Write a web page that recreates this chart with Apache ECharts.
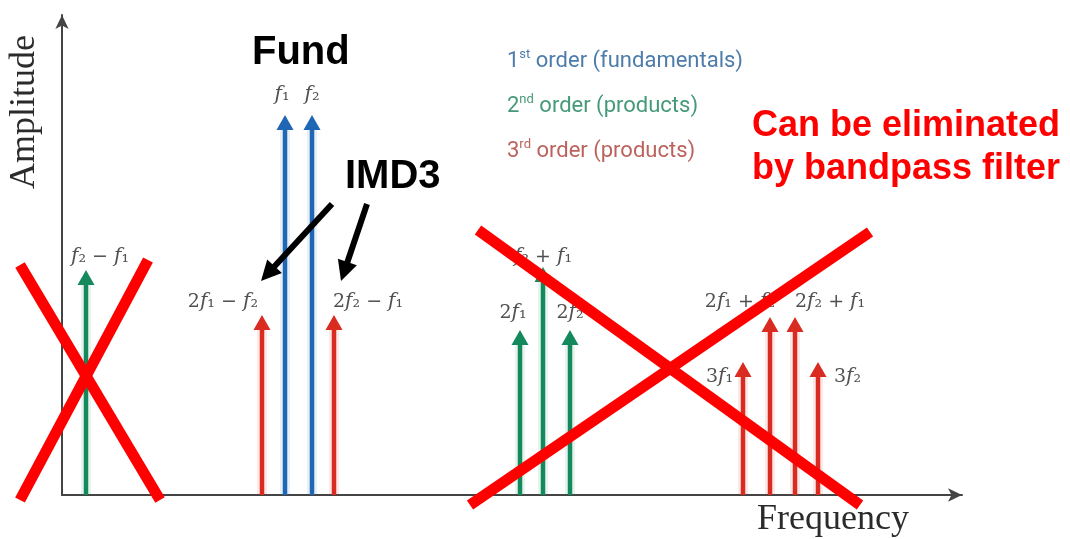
<!DOCTYPE html>
<html>
<head>
<meta charset="utf-8">
<script src="https://cdn.jsdelivr.net/npm/echarts@6/dist/echarts.min.js"></script>
<style>
html, body { margin: 0; padding: 0; background: #fff; }
#chart { width: 1070px; height: 539px; }
</style>
</head>
<body>
<div id="chart"></div>
<script>
// spectral lines: name, frequency position, amplitude, order
const tones = ['f2-f1', '2f1-f2', 'f1', 'f2', '2f2-f1', '2f1', 'f2+f1', '2f2', '3f1', '2f1+f2', '2f2+f1', '3f2'];
const freqs = [24, 200, 223, 250, 272, 458, 481, 508, 681, 708, 733, 756];
const amps = [225, 180, 380, 380, 180, 165, 228, 165, 133, 178, 178, 133];
const orders = [2, 3, 1, 1, 3, 2, 2, 2, 3, 3, 3, 3];
const orderNames = ['1st order (fundamentals)', '2nd order (products)', '3rd order (products)'];

const toneText = {
	'f2-f1': '{i|f}₂ − {i|f}₁',
	'2f1-f2': '2{i|f}₁ − {i|f}₂',
	'f1': '{i|f}₁',
	'f2': '{i|f}₂',
	'2f2-f1': '2{i|f}₂ − {i|f}₁',
	'2f1': '2{i|f}₁',
	'f2+f1': '{i|f}₂ + {i|f}₁',
	'2f2': '2{i|f}₂',
	'3f1': '3{i|f}₁',
	'2f1+f2': '2{i|f}₁ + {i|f}₂',
	'2f2+f1': '2{i|f}₂ + {i|f}₁',
	'3f2': '3{i|f}₂'
};
// label offset from arrow tip [dx, dy, align]
const labelPlace = {
	'f2-f1': [14, -13, 'center'],
	'2f1-f2': [-4, -13, 'right'],
	'f1': [-3, -20, 'center'],
	'f2': [0, -20, 'center'],
	'2f2-f1': [-1, -13, 'left'],
	'2f1': [-7, -17, 'center'],
	'f2+f1': [0, -10, 'center'],
	'2f2': [0, -17, 'center'],
	'3f1': [-10, 15, 'right'],
	'2f1+f2': [5, -15, 'right'],
	'2f2+f1': [0, -15, 'left'],
	'3f2': [16, 15, 'left']
};
const colors = ['#1f66b5', '#14895b', '#da2b20'];
const legendColors = ['#4d7cab', '#449a78', '#bb625c'];
const serif = '"Liberation Serif", "DejaVu Serif", serif';
const mathFont = '"DejaVu Serif", serif';

function renderArrow( params, api ) {
	const color = api.visual( 'color' );
	const base = api.coord( [ api.value( 0 ), 0 ] );
	const tip = api.coord( [ api.value( 0 ), api.value( 1 ) ] );
	const key = tones[ api.value( 2 ) ];
	const place = labelPlace[ key ];
	const head = 15, hw = 8.5;
	const x = tip[ 0 ], y = tip[ 1 ];
	return {
		type: 'group',
		children: [
			{
				type: 'line',
				shape: { x1: x, y1: base[ 1 ], x2: x, y2: y + head },
				style: { stroke: color, lineWidth: 10, opacity: 0.1 }
			},
			{
				type: 'line',
				shape: { x1: x, y1: base[ 1 ], x2: x, y2: y + head - 1 },
				style: { stroke: color, lineWidth: 4.5 }
			},
			{
				type: 'polygon',
				shape: { points: [ [ x - hw, y + head ], [ x, y ], [ x + hw, y + head ] ] },
				style: { fill: color }
			},
			{
				type: 'text',
				x: x + place[ 0 ],
				y: y + place[ 1 ],
				style: {
					text: toneText[ key ],
					fill: '#505050',
					fontSize: 19,
					fontFamily: mathFont,
					align: place[ 2 ],
					verticalAlign: 'middle',
					rich: {
						i: { fontSize: 20, fontFamily: mathFont, fontStyle: 'italic', fill: '#505050' }
					}
				}
			}
		]
	};
}

function arrowLine( x1, y1, x2, y2 ) {
	const dx = x2 - x1, dy = y2 - y1, len = Math.hypot( dx, dy );
	const ux = dx / len, uy = dy / len;
	const hl = 20, hw = 10;
	const bx = x2 - ux * hl, by = y2 - uy * hl;
	return [
		{ type: 'line', z: 50, shape: { x1, y1, x2: bx + ux * 2, y2: by + uy * 2 }, style: { stroke: '#000', lineWidth: 6 } },
		{ type: 'polygon', z: 50, shape: { points: [ [ x2, y2 ], [ bx - uy * hw, by + ux * hw ], [ bx + uy * hw, by - ux * hw ] ] }, style: { fill: '#000' } }
	];
}

function cross( x1, y1, x2, y2 ) {
	return { type: 'line', z: 60, shape: { x1, y1, x2, y2 }, style: { stroke: '#ff0000', lineWidth: 11 } };
}

const series = orderNames.map( ( name, k ) => ( {
	type: 'custom',
	name,
	color: colors[ k ],
	renderItem: renderArrow,
	data: tones.map( ( t, i ) => [ freqs[ i ], amps[ i ], i ] ).filter( d => orders[ d[ 2 ] ] === k + 1 )
} ) );

const sups = [ 'st', 'nd', 'rd' ];

const chart = echarts.init( document.getElementById( 'chart' ) );
chart.setOption( {
	animation: false,
	grid: { left: 62, right: 108, top: 15, bottom: 44 },
	xAxis: {
		type: 'value', min: 0, max: 900,
		axisLine: { symbol: [ 'none', 'arrow' ], symbolSize: [ 10, 14 ], lineStyle: { color: '#444', width: 2 } },
		axisTick: { show: false }, axisLabel: { show: false }, splitLine: { show: false }
	},
	yAxis: {
		type: 'value', min: 0, max: 480,
		axisLine: { show: true, symbol: [ 'none', 'arrow' ], symbolSize: [ 10, 14 ], lineStyle: { color: '#444', width: 2 } },
		axisTick: { show: false }, axisLabel: { show: false }, splitLine: { show: false }
	},
	legend: {
		orient: 'vertical',
		left: 497,
		top: 43,
		itemGap: 19,
		itemWidth: 0,
		itemHeight: 0,
		icon: 'circle',
		selectedMode: false,
		formatter: name => {
			const k = orderNames.indexOf( name );
			return name.charAt( 0 ) + '{s|' + sups[ k ] + '}' + name.slice( 3 );
		},
		data: orderNames.map( ( name, k ) => ( {
			name,
			textStyle: {
				color: legendColors[ k ],
				fontFamily: 'Roboto',
				fontSize: 22,
				lineHeight: 26,
				rich: { s: { color: legendColors[ k ], fontFamily: 'Roboto', fontSize: 13, lineHeight: 13, verticalAlign: 'top' } }
			}
		} ) )
	},
	graphic: [
		{ type: 'text', x: 25, y: 112, rotation: Math.PI / 2, style: { text: 'Amplitude', fontSize: 36, fontFamily: serif, fill: '#2b2b2b', align: 'center', verticalAlign: 'middle' } },
		{ type: 'text', x: 757, y: 520, style: { text: 'Frequency', fontSize: 36, fontFamily: serif, fill: '#2b2b2b', align: 'left', verticalAlign: 'middle' } },
		{ type: 'text', x: 252, y: 53, style: { text: 'Fund', fontSize: 40, fontWeight: 'bold', fontFamily: '"Liberation Sans", Arial, sans-serif', fill: '#000', verticalAlign: 'middle' } },
		{ type: 'text', x: 345, y: 177, style: { text: 'IMD3', fontSize: 40, fontWeight: 'bold', fontFamily: '"Liberation Sans", Arial, sans-serif', fill: '#000', verticalAlign: 'middle' } },
		{ type: 'text', x: 752, y: 126, style: { text: 'Can be eliminated', fontSize: 36, fontWeight: 'bold', fontFamily: '"Liberation Sans", Arial, sans-serif', fill: '#ff0000', verticalAlign: 'middle' } },
		{ type: 'text', x: 752, y: 169, style: { text: 'by bandpass filter', fontSize: 36, fontWeight: 'bold', fontFamily: '"Liberation Sans", Arial, sans-serif', fill: '#ff0000', verticalAlign: 'middle' } },
		...arrowLine( 332, 204, 261, 281 ),
		...arrowLine( 367, 204, 341, 281 ),
		cross( 20, 265, 160, 500 ),
		cross( 148, 260, 20, 500 ),
		cross( 478, 230, 860, 505 ),
		cross( 870, 232, 470, 505 )
	],
	series
} );
</script>
</body>
</html>
